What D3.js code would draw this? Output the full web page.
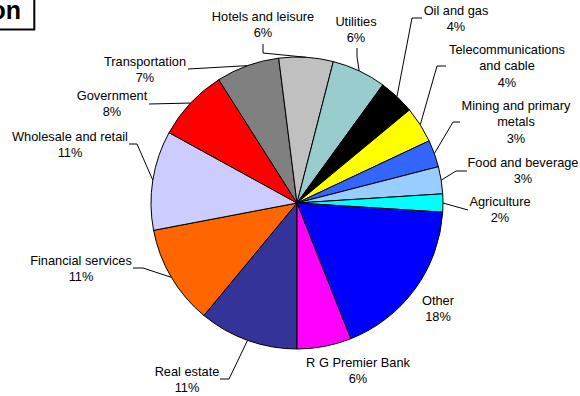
<!DOCTYPE html>
<html>
<head>
<meta charset="utf-8">
<script src="https://cdn.jsdelivr.net/npm/d3@7"></script>
<style>
  html, body { margin: 0; padding: 0; background: #ffffff; }
  svg { display: block; }
  text { font-family: "Liberation Sans", Arial, sans-serif; fill: #000; }
</style>
</head>
<body>
<svg id="chart" width="580" height="396"></svg>
<script>
// Loan portfolio by sector, in drawing order (clockwise from 6 o'clock)
const sectors = [
  "Real estate", "Financial services", "Wholesale and retail", "Government",
  "Transportation", "Hotels and leisure", "Utilities", "Oil and gas",
  "Telecommunications and cable", "Mining and primary metals",
  "Food and beverage", "Agriculture", "Other", "R G Premier Bank"
];
const shares = [11, 11, 11, 8, 7, 6, 6, 4, 4, 3, 3, 2, 18, 6];
const sliceColors = [
  "#333399", "#FF6600", "#CCCCFF", "#FF0000", "#808080", "#C0C0C0", "#99CCCC",
  "#000000", "#FFFF00", "#3366FF", "#99CCFF", "#00FFFF", "#0000FF", "#FF00FF"
];
const titleTail = "on";

// Label placement: text centre x, first baseline y, words on first line,
// and the elbow points of the leader line (empty = no leader).
const labelLayout = [
  { x: 187, y: 376, wrap: 0, leader: [[220, 379], [229, 379]] },
  { x: 81,  y: 265, wrap: 0, leader: [[133, 268], [143, 268]] },
  { x: 70,  y: 141, wrap: 0, leader: [[129, 144], [137, 144]] },
  { x: 112, y: 100, wrap: 0, leader: [[149, 104]] },
  { x: 145, y: 66,  wrap: 0, leader: [[188, 69]] },
  { x: 263, y: 21,  wrap: 0, leader: [[263, 44], [263, 53]] },
  { x: 356, y: 26,  wrap: 0, leader: [[357, 48], [357, 57]] },
  { x: 456, y: 15,  wrap: 0, leader: [[422, 18], [412, 18]] },
  { x: 507, y: 54,  wrap: 1, leader: [[446, 66], [437, 66]] },
  { x: 516, y: 110, wrap: 3, leader: [[460, 122], [453, 122]] },
  { x: 523, y: 167, wrap: 0, leader: [[467, 171], [456, 171]] },
  { x: 500, y: 206, wrap: 0, leader: [[468, 210]] },
  { x: 438, y: 305, wrap: 0, leader: [] },
  { x: 358, y: 367, wrap: 0, leader: [] }
];

const cx = 297, cy = 203, radius = 146;
const fontSize = 12.8, lineGap = 16.3;

const svg = d3.select("#chart");

// Title box (its left part runs off the page)
svg.append("rect")
  .attr("x", -20).attr("y", -20)
  .attr("width", 54.3).attr("height", 49.5)
  .attr("fill", "#fff").attr("stroke", "#000").attr("stroke-width", 2);
svg.append("text")
  .attr("x", 21).attr("y", 18.5)
  .attr("text-anchor", "end")
  .style("font-size", "25px").style("font-weight", "bold")
  .text(titleTail);

const pie = d3.pie()
  .sort(null)
  .startAngle(Math.PI)
  .endAngle(3 * Math.PI)
  .value(d => d);
const arcs = pie(shares);
const total = d3.sum(shares);
const pct = d3.format(".0%");

const arc = d3.arc().innerRadius(0).outerRadius(radius);
const edgeArc = d3.arc().innerRadius(radius).outerRadius(radius);

const g = svg.append("g").attr("transform", `translate(${cx},${cy})`);
g.selectAll("path.slice")
  .data(arcs)
  .join("path")
  .attr("class", "slice")
  .attr("d", arc)
  .attr("fill", (d, i) => sliceColors[i])
  .attr("stroke", "#000")
  .attr("stroke-width", 1)
  .attr("stroke-linejoin", "round");

// Point on the rim at a slice's middle angle
function rimPoint(d) {
  const a = (d.startAngle + d.endAngle) / 2;
  return [cx + radius * Math.sin(a), cy - radius * Math.cos(a)];
}

// Leader lines
const line = d3.line();
arcs.forEach((d, i) => {
  const L = labelLayout[i];
  if (!L.leader.length) return;
  const pts = L.leader.concat([rimPoint(d)]);
  svg.append("path")
    .attr("d", line(pts))
    .attr("fill", "none")
    .attr("stroke", "#000")
    .attr("stroke-width", 1);
});

// Data labels: name (optionally wrapped) and share
arcs.forEach((d, i) => {
  const L = labelLayout[i];
  const words = sectors[i].split(" ");
  const lines = L.wrap ? [words.slice(0, L.wrap).join(" "), words.slice(L.wrap).join(" ")] : [sectors[i]];
  lines.push(pct(d.data / total));
  const t = svg.append("text")
    .attr("text-anchor", "middle")
    .style("font-size", fontSize + "px");
  lines.forEach((s, k) => {
    t.append("tspan").attr("x", L.x).attr("y", L.y + k * lineGap).text(s);
  });
});
</script>
</body>
</html>
